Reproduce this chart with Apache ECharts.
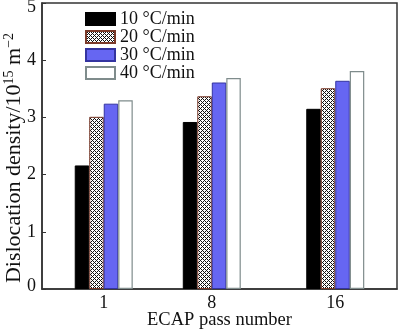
<!DOCTYPE html>
<html>
<head>
<meta charset="utf-8">
<script src="https://cdn.jsdelivr.net/npm/echarts@6/dist/echarts.min.js"></script>
<style>html,body{margin:0;padding:0;background:#fff}#c{width:400px;height:330px}</style>
</head>
<body>
<div id="c"></div>
<script>
const passNumbers = [1, 8, 16];
const seriesNames = ['10 °C/min', '20 °C/min', '30 °C/min', '40 °C/min'];
const rate10 = [2.16, 2.92, 3.15];
const rate20 = [3.01, 3.37, 3.51];
const rate30 = [3.24, 3.61, 3.64];
const rate40 = [3.30, 3.69, 3.81];
const yTicks = [0, 1, 2, 3, 4, 5];
const xTickLabels = [1, 8, 16];
const xRange = [-3, 20]; // numeric extent of the pass-number axis

const FONT = '"Liberation Serif", "Times New Roman", serif';

// evenly spaced integer slots so pass numbers sit at their numeric positions
const xSlots = [];
for (let v = xRange[0]; v <= xRange[1]; v++) xSlots.push(String(v));

function makePattern() {
  const cv = document.createElement('canvas');
  cv.width = 4; cv.height = 4;
  const ctx = cv.getContext('2d');
  ctx.fillStyle = '#ffffff';
  ctx.fillRect(0, 0, 4, 4);
  ctx.fillStyle = '#111111';
  for (let x = 0; x < 4; x++) {
    for (let y = 0; y < 4; y++) {
      if ((x + y) % 4 === 0 || ((x - y) % 4 + 4) % 4 === 0) ctx.fillRect(x, y, 1, 1);
    }
  }
  return cv;
}
const pattern = { image: makePattern(), repeat: 'repeat' };

const styles = [
  { color: '#000000', borderColor: '#000000', borderWidth: 1 },
  { color: pattern, borderColor: '#7a3a2a', borderWidth: 1 },
  { color: '#6666F2', borderColor: '#3434a0', borderWidth: 1 },
  { color: '#ffffff', borderColor: '#7f8c8c', borderWidth: 1.2 }
];
const values = [rate10, rate20, rate30, rate40];

function toSlots(vals) {
  const arr = xSlots.map(() => '-');
  passNumbers.forEach((p, j) => { arr[xSlots.indexOf(String(p))] = vals[j]; });
  return arr;
}

const yMax = yTicks[yTicks.length - 1];
const yMin = yTicks[0];

const chart = echarts.init(document.getElementById('c'), null, { renderer: 'canvas' });
chart.setOption({
  animation: false,
  backgroundColor: '#ffffff',
  textStyle: { fontFamily: FONT },
  grid: {
    left: 42, right: 3, top: 3, bottom: 41, containLabel: false, outerBoundsMode: 'none',
    show: true, borderColor: '#333', borderWidth: 1.5, backgroundColor: 'transparent'
  },
  legend: {
    left: 80, top: 5, orient: 'vertical', itemWidth: 29, itemHeight: 12, itemGap: 0,
    icon: 'rect',
    textStyle: { fontFamily: FONT, fontSize: 18, color: '#111' },
    data: seriesNames
  },
  xAxis: {
    type: 'category', data: xSlots, boundaryGap: false,
    name: 'ECAP pass number', nameLocation: 'middle', nameGap: 22, nameMoveOverlap: false,
    nameTextStyle: { fontFamily: FONT, fontSize: 18.5, color: '#111' },
    axisLine: { show: true, onZero: false, lineStyle: { color: '#333', width: 1.5 } },
    axisTick: { show: false },
    splitLine: { show: false },
    axisLabel: {
      interval: 0, fontFamily: FONT, fontSize: 18, color: '#111', margin: 5,
      formatter: v => xTickLabels.includes(Number(v)) ? v : ''
    }
  },
  yAxis: {
    type: 'value', min: yMin, max: yMax, interval: 1,
    name: '{a|Dislocation density/10}{s|15}{a| m}{s|−2}',
    nameLocation: 'middle', nameGap: 16, nameMoveOverlap: false,
    nameTextStyle: {
      fontFamily: FONT, fontSize: 22, color: '#111', padding: [0, 24, 0, 0],
      rich: {
        a: { fontFamily: FONT, fontSize: 22, color: '#111', lineHeight: 24 },
        s: { fontFamily: FONT, fontSize: 14, color: '#111', verticalAlign: 'top', lineHeight: 24, padding: [0, 0, 7, 0] }
      }
    },
    axisLine: { show: true, onZero: false, lineStyle: { color: '#333', width: 1.5 } },
    axisTick: { show: true, inside: true, length: 4, lineStyle: { color: '#333' } },
    splitLine: { show: false },
    axisLabel: {
      fontFamily: FONT, fontSize: 18, color: '#111', margin: 6,
      formatter: v => v === yMax ? '{t|' + v + '}' : (v === yMin ? '{b|' + v + '}' : String(v)),
      rich: {
        t: { fontFamily: FONT, fontSize: 18, color: '#111', padding: [8, 0, 0, 0] },
        b: { fontFamily: FONT, fontSize: 18, color: '#111', padding: [0, 0, 5, 0] }
      }
    }
  },
  series: seriesNames.map((name, i) => ({
    name, type: 'bar', barWidth: 14.5, barGap: '0%',
    itemStyle: styles[i],
    data: toSlots(values[i])
  }))
});
</script>
</body>
</html>
